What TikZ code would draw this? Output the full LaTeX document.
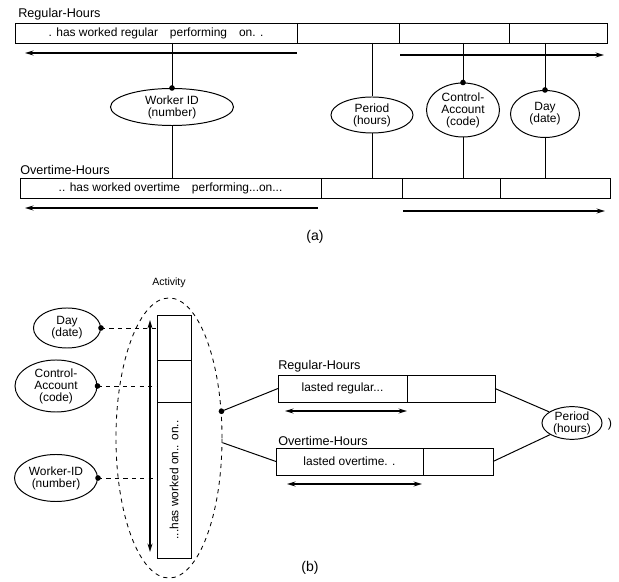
\documentclass[tikz,border=0pt]{standalone}
\usepackage{fontspec}
\setmainfont{Liberation Sans}
\usetikzlibrary{arrows.meta}
\usetikzlibrary{shapes.geometric}

\tikzset{
    cell/.style={draw, line width=0.7pt, inner sep=0pt, outer sep=0pt, anchor=north west, font=\fontsize{8.5}{9}\selectfont},
    attr/.style={draw, ellipse, line width=0.7pt, inner sep=0pt, align=center, font=\fontsize{8.5}{8.5}\selectfont},
    tname/.style={anchor=south west, inner sep=0pt, font=\fontsize{9}{10}\selectfont},
    span/.style={line width=1.1pt},
    link/.style={line width=0.7pt},
}

\begin{document}
\begin{tikzpicture}[x=0.025cm, y=-0.025cm, >={Stealth[length=6pt, width=3.5pt]}]
    \useasboundingbox (0, 0) rectangle (619, 582);
    % (a)
    \node[tname] (regA) at (18, 20) {Regular-Hours};
    \node[cell, minimum width=7.05cm, minimum height=0.5cm] (ra1) at (15, 23) {. has worked regular\quad performing\quad on. .};
    \node[cell, minimum width=2.55cm, minimum height=0.5cm] (ra2) at (297, 23) {};
    \node[cell, minimum width=2.75cm, minimum height=0.5cm] (ra3) at (399, 23) {};
    \node[cell, minimum width=2.45cm, minimum height=0.5cm] (ra4) at (509, 23) {};
    \node[tname] (ovtA) at (20, 175) {Overtime-Hours};
    \node[cell, minimum width=7.525cm, minimum height=0.5cm] (oa1) at (20, 178) {.. has worked overtime\quad performing...on...};
    \node[cell, minimum width=2.025cm, minimum height=0.5cm] (oa2) at (321, 178) {};
    \node[cell, minimum width=2.45cm, minimum height=0.5cm] (oa3) at (402, 178) {};
    \node[cell, minimum width=2.75cm, minimum height=0.5cm] (oa4) at (500, 178) {};
    \node[attr, minimum width=3.075cm, minimum height=0.925cm] (wrkA) at (172, 107) {Worker ID\\(number)};
    \node[attr, minimum width=2.05cm, minimum height=0.9cm] (perA) at (372, 115) {Period\\(hours)};
    \node[attr, minimum width=1.825cm, minimum height=1.35cm] (ctlA) at (463, 110) {Control-\\Account\\(code)};
    \node[attr, minimum width=1.725cm, minimum height=1.175cm] (dayA) at (545, 114) {Day\\(date)};
    \foreach \n in {wrkA, perA, ctlA, dayA} {
        \draw[link] (\n.north |- ra1.south) -- (\n.north);
        \draw[link] (\n.south) -- (\n.south |- oa1.north);
    }
    \foreach \n in {wrkA, ctlA, dayA}
        \fill (\n.north) circle (2pt);
    \draw[span, <-] ([shift={(10, 10)}]ra1.south west) -- ([shift={(0, 10)}]ra1.south east);
    \draw[span, ->] ([shift={(1, 12)}]ra3.south west) -- ([shift={(-3, 12)}]ra4.south east);
    \draw[span, <-] ([shift={(5, 10)}]oa1.south west) -- ([shift={(-3, 10)}]oa1.south east);
    \draw[span, ->] ([shift={(1, 13)}]oa3.south west) -- ([shift={(-5, 13)}]oa4.south east);
    \node[font=\fontsize{10}{12}\selectfont] (capA) at (315, 237) {(a)};
    % (b)
    \node[font=\fontsize{7.5}{9}\selectfont] (actB) at (169, 283) {Activity};
    \node[draw, dashed, ellipse, line width=0.6pt, minimum width=2.65cm, minimum height=7cm] (actE) at (169, 438) {};
    \node[cell, minimum width=0.85cm, minimum height=1.125cm] (ab1) at (157, 315) {};
    \node[cell, minimum width=0.85cm, minimum height=1.05cm] (ab2) at (157, 360) {};
    \node[cell, minimum width=0.85cm, minimum height=3.9cm] (ab3) at (157, 402) {};
    \node[rotate=90, font=\fontsize{8.5}{9}\selectfont] (ab3t) at (ab3.center) {...has worked on.. on..};
    \draw[span, <->] ([shift={(-7, 5)}]ab1.north west) -- ([shift={(-7, -6)}]ab3.south west);
    \node[attr, minimum width=1.675cm, minimum height=1cm] (dayB) at (67, 328) {Day\\(date)};
    \node[attr, minimum width=2.05cm, minimum height=1.3cm] (ctlB) at (56, 386) {Control-\\Account\\(code)};
    \node[attr, minimum width=2.075cm, minimum height=1.175cm] (wrkB) at (56, 478) {Worker-ID\\(number)};
    \foreach \n/\c in {dayB/ab1, ctlB/ab2, wrkB/ab3} {
        \draw[link, dashed] (\n.east) -- (\n.east -| \c.west);
        \fill (\n.east) circle (2pt);
    }
    \node[tname] (regB) at (278, 372) {Regular-Hours};
    \node[cell, minimum width=3.225cm, minimum height=0.675cm] (rb1) at (278, 375) {lasted regular...};
    \node[cell, minimum width=2.2cm, minimum height=0.675cm] (rb2) at (407, 375) {};
    \draw[span, <->] ([shift={(7, 9)}]rb1.south west) -- ([shift={(0, 9)}]rb1.south east);
    \node[tname] (ovtB) at (278, 446) {Overtime-Hours};
    \node[cell, minimum width=3.675cm, minimum height=0.675cm] (ob1) at (276, 448) {lasted overtime. .};
    \node[cell, minimum width=1.75cm, minimum height=0.675cm] (ob2) at (423, 448) {};
    \draw[span, <->] ([shift={(11, 9)}]ob1.south west) -- ([shift={(-1, 9)}]ob1.south east);
    \node[attr, minimum width=1.5cm, minimum height=0.75cm] (perB) at (572, 423) {Period\\(hours)};
    \node[font=\fontsize{9}{10}\selectfont] (perBr) at (610, 424) {)};
    \draw[link] (actE.27) -- (rb1.west);
    \fill (actE.27) circle (2pt);
    \draw[link] (actE.-5) -- (ob1.west);
    \draw[link] (rb2.east) -- (perB.154);
    \draw[link] (ob2.east) -- (perB.208);
    \node[font=\fontsize{10}{12}\selectfont] (capB) at (310, 568) {(b)};
\end{tikzpicture}
\end{document}
